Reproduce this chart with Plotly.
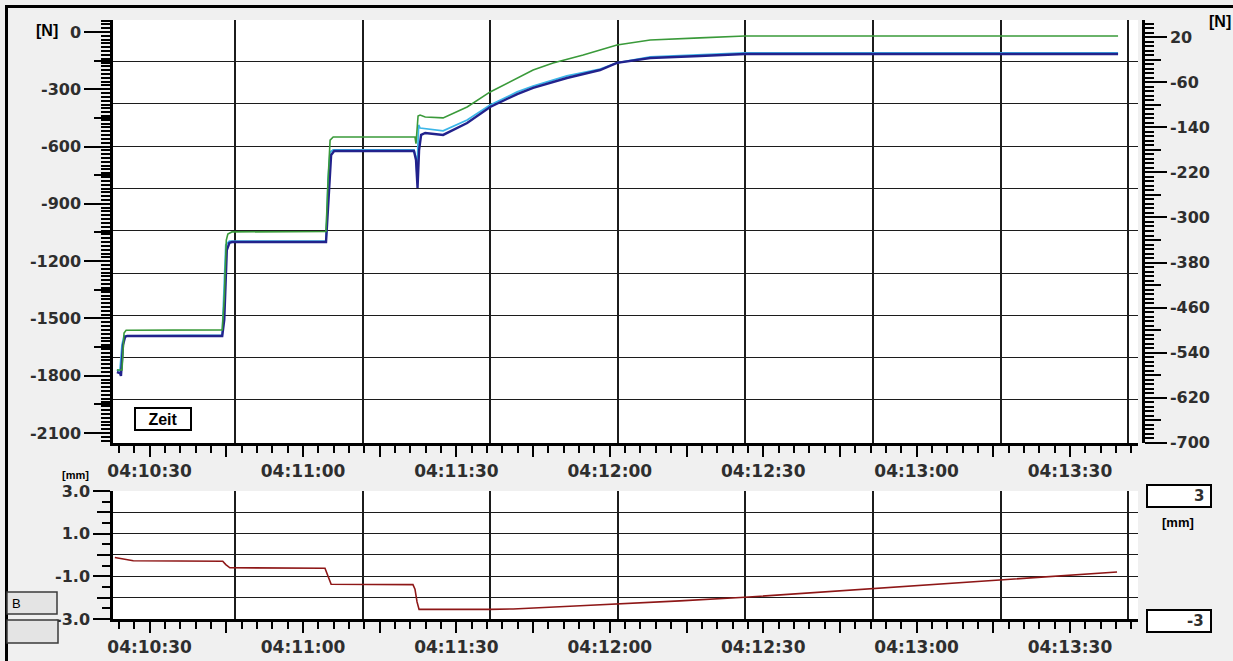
import plotly.graph_objects as go

# ---------------- data ----------------
DAY = "2024-01-01 "

green_t = ["04:10:23.6", "04:10:24.6", "04:10:25.0", "04:10:25.4", "04:10:44.2", "04:10:44.6",
           "04:10:45.0", "04:10:45.3", "04:10:46.1", "04:11:04.5", "04:11:04.9", "04:11:05.3",
           "04:11:05.9", "04:11:21.9", "04:11:22.1", "04:11:22.5", "04:11:22.9", "04:11:23.9",
           "04:11:27.4", "04:11:32.1", "04:11:36.6", "04:11:41.9", "04:11:45.0", "04:11:48.9",
           "04:11:54.8", "04:12:01.4", "04:12:07.9", "04:12:17.6", "04:12:26.4", "04:13:39.4"]
green_v = [-1770, -1770, -1576, -1562, -1560, -1400, -1090, -1058, -1047, -1045, -775, -566,
           -550, -550, -585, -440, -435, -445, -450, -393, -314, -241, -199, -162,
           -120, -68, -42, -31, -21, -21]

navy_t = ["04:10:23.6", "04:10:24.2", "04:10:24.4", "04:10:24.8", "04:10:25.2", "04:10:25.6",
          "04:10:44.2", "04:10:44.6", "04:10:45.1", "04:10:45.6", "04:10:46.1", "04:11:04.5",
          "04:11:05.1", "04:11:05.5", "04:11:06.1", "04:11:21.7", "04:11:22.1", "04:11:22.4",
          "04:11:22.7", "04:11:23.1", "04:11:23.9", "04:11:27.4", "04:11:32.1", "04:11:36.6",
          "04:11:41.9", "04:11:45.0", "04:11:51.6", "04:11:58.1", "04:12:01.4", "04:12:07.9",
          "04:12:17.6", "04:12:26.4", "04:13:39.4"]
navy_v = [-1781, -1786, -1801, -1639, -1597, -1592,
          -1592, -1508, -1142, -1105, -1100, -1100,
          -827, -644, -623, -623, -670, -817,
          -618, -539, -529, -539, -477, -393,
          -325, -293, -241, -199, -162, -136,
          -126, -115, -115]

cyan_t = ["04:10:23.6", "04:10:24.2", "04:10:24.6", "04:10:25.0", "04:10:44.2", "04:10:44.5",
          "04:10:44.9", "04:10:45.6", "04:11:04.5", "04:11:04.9", "04:11:05.3", "04:11:05.9",
          "04:11:21.7", "04:11:22.1", "04:11:22.3", "04:11:22.6", "04:11:22.9", "04:11:27.4",
          "04:11:32.1", "04:11:36.6", "04:11:41.9", "04:11:45.0", "04:11:51.6", "04:11:58.1",
          "04:12:01.4", "04:12:07.9", "04:12:17.6", "04:12:26.4", "04:13:39.4"]
cyan_v = [-1770, -1775, -1639, -1592, -1587, -1403,
          -1115, -1095, -1095, -775, -628, -618,
          -618, -660, -749, -487, -503, -518,
          -461, -382, -314, -283, -230, -194,
          -162, -131, -120, -110, -110]

red_t = ["04:10:23.2", "04:10:25.5", "04:10:26.8", "04:10:44.3", "04:10:44.9", "04:10:45.7",
         "04:11:04.3", "04:11:04.9", "04:11:05.5", "04:11:21.5", "04:11:21.9", "04:11:22.3",
         "04:11:22.7", "04:11:36.6", "04:11:41.1", "04:11:54.2", "04:12:02.0", "04:12:13.7",
         "04:12:26.4", "04:13:16.3", "04:13:39.2"]
red_v = [-0.12, -0.20, -0.27, -0.29, -0.45, -0.60,
         -0.62, -1.00, -1.37, -1.39, -1.60, -2.20,
         -2.55, -2.55, -2.53, -2.38, -2.30, -2.15,
         -1.98, -1.19, -0.80]

time_ticks = ["04:10:30", "04:10:45", "04:11:00", "04:11:15", "04:11:30", "04:11:45", "04:12:00",
              "04:12:15", "04:12:30", "04:12:45", "04:13:00", "04:13:15", "04:13:30"]
time_labels = ["04:10:30", "", "04:11:00", "", "04:11:30", "", "04:12:00",
               "", "04:12:30", "", "04:13:00", "", "04:13:30"]

left_ticks = [0, -300, -600, -900, -1200, -1500, -1800, -2100]
right_ticks = [20, -60, -140, -220, -300, -380, -460, -540, -620, -700]
mm_ticks = [3, 1, -1, -3]
mm_labels = ["3.0", "1.0", "-1.0", "-3.0"]

# ---------------- layout helpers ----------------
W, H = 1233, 661


def px_x(p):
    return p / W


def px_y(p):
    return 1 - p / H


XDOM = [px_x(113), px_x(1138)]
TOP_DOM = [px_y(443), px_y(20)]
BOT_DOM = [px_y(619), px_y(491)]
XRANGE = [DAY + "04:10:22.84", DAY + "04:13:43.3"]

TICKFONT = dict(family="DejaVu Sans", size=16, color="#2e2e2e", weight="bold")
XTICKFONT = dict(family="DejaVu Sans", size=17, color="#2e2e2e", weight="bold")
GRIDCOL = "#1c1c1c"


def dates(ts):
    return [DAY + t for t in ts]


fig = go.Figure()

fig.add_trace(go.Scatter(x=dates(cyan_t), y=cyan_v, mode="lines",
                         line=dict(color="#3cb6e8", width=1.8), xaxis="x", yaxis="y"))
fig.add_trace(go.Scatter(x=dates(navy_t), y=navy_v, mode="lines",
                         line=dict(color="#22228c", width=2.4), xaxis="x", yaxis="y"))
fig.add_trace(go.Scatter(x=dates(green_t), y=green_v, mode="lines",
                         line=dict(color="#3a9a3a", width=1.6), xaxis="x", yaxis="y"))
fig.add_trace(go.Scatter(x=dates(red_t), y=red_v, mode="lines",
                         line=dict(color="#8e1717", width=1.6), xaxis="x4", yaxis="y4"))

# empty traces to instantiate helper (grid / tick) subplots
for xa, ya in [("x", "y2"), ("x3", "y3"), ("x", "y5"), ("x", "y6"),
               ("x4", "y7"), ("x5", "y8")]:
    fig.add_trace(go.Scatter(x=[], y=[], xaxis=xa, yaxis=ya, hoverinfo="skip"))

time_axis = dict(
    type="date", domain=XDOM, range=XRANGE,
    tickmode="array", tickvals=dates(time_ticks), ticktext=time_labels,
    ticks="outside", ticklen=11, tickwidth=2, tickcolor="black",
    minor=dict(tickmode="linear", tick0=DAY + "04:10:00", dtick=3000,
               ticks="outside", ticklen=7, tickwidth=1.5, tickcolor="black"),
    showline=True, linecolor="black", linewidth=2.5,
    showgrid=False, zeroline=False, tickfont=XTICKFONT, automargin=False,
)

grid_x = dict(overlaying="x", range=[0.044, 8.077], tickmode="linear", tick0=0, dtick=1,
              showgrid=True, gridcolor=GRIDCOL, gridwidth=2.2, showticklabels=False,
              ticks="", showline=False, zeroline=False, automargin=False, type="linear")

fig.update_layout(
    width=W, height=H,
    margin=dict(l=0, r=0, t=0, b=0),
    template="none",
    paper_bgcolor="#f0f0f0", plot_bgcolor="white",
    showlegend=False, hovermode=False,
    xaxis=dict(anchor="y", **time_axis),
    xaxis4=dict(anchor="y4", **time_axis),
    yaxis=dict(
        domain=TOP_DOM, range=[-2152.4, 62.8], anchor="x",
        tickmode="array", tickvals=left_ticks, ticktext=[str(v) for v in left_ticks],
        ticks="outside", ticklen=26, tickwidth=2, tickcolor="black",
        minor=dict(tickmode="linear", tick0=0, dtick=20, ticks="outside",
                   ticklen=9, tickwidth=1.5, tickcolor="black"),
        showline=True, linecolor="black", linewidth=2.5,
        showgrid=False, zeroline=False, tickfont=TICKFONT, automargin=False,
    ),
    yaxis5=dict(
        overlaying="y", range=[-2152.4, 62.8], anchor="x", side="left",
        tickmode="array", tickvals=[-150, -450, -750, -1050, -1350, -1650, -1950],
        ticks="outside", ticklen=18, tickwidth=1.5, tickcolor="black",
        showticklabels=False, showline=False, showgrid=False, zeroline=False,
        automargin=False,
    ),
    yaxis2=dict(
        overlaying="y", side="right", anchor="free", position=px_x(1143),
        range=[-700.4, 50.6],
        tickmode="array", tickvals=right_ticks, ticktext=[str(v) for v in right_ticks],
        ticks="outside", ticklen=22, tickwidth=2, tickcolor="black",
        minor=dict(tickmode="linear", tick0=20, dtick=8, ticks="outside",
                   ticklen=9, tickwidth=1.5, tickcolor="black"),
        showline=True, linecolor="black", linewidth=2.5,
        showgrid=False, zeroline=False, tickfont=TICKFONT, automargin=False,
    ),
    yaxis6=dict(
        overlaying="y", side="right", anchor="free", position=px_x(1143),
        range=[-700.4, 50.6],
        tickmode="array", tickvals=[-20, -100, -180, -260, -340, -420, -500, -580, -660],
        ticks="outside", ticklen=17, tickwidth=1.5, tickcolor="black",
        showticklabels=False, showline=False, showgrid=False, zeroline=False,
        automargin=False,
    ),
    xaxis3=dict(anchor="y3", **grid_x),
    yaxis3=dict(overlaying="y", anchor="x3", range=[-0.017, 9.98], tickmode="linear",
                tick0=0, dtick=1, showgrid=True, gridcolor=GRIDCOL, gridwidth=1.4,
                showticklabels=False, ticks="", showline=False, zeroline=False,
                automargin=False),
    yaxis4=dict(
        domain=BOT_DOM, range=[-3, 3], anchor="x4",
        tickmode="array", tickvals=mm_ticks, ticktext=mm_labels,
        ticks="outside", ticklen=17, tickwidth=2, tickcolor="black",
        minor=dict(tickmode="linear", tick0=0, dtick=0.5, ticks="outside",
                   ticklen=8, tickwidth=1.5, tickcolor="black"),
        showline=True, linecolor="black", linewidth=2.5,
        showgrid=False, zeroline=False, tickfont=TICKFONT, automargin=False,
    ),
    yaxis7=dict(
        overlaying="y4", range=[-3, 3], anchor="x4", side="left",
        tickmode="array", tickvals=[2, 0, -2],
        ticks="outside", ticklen=15, tickwidth=1.5, tickcolor="black",
        showticklabels=False, showline=False, showgrid=False, zeroline=False,
        automargin=False,
    ),
    xaxis5=dict(anchor="y8", **{**grid_x, "overlaying": "x4"}),
    yaxis8=dict(overlaying="y4", anchor="x5", range=[-3, 2.99], tickmode="linear",
                tick0=0, dtick=1, showgrid=True, gridcolor=GRIDCOL, gridwidth=1.4,
                showticklabels=False, ticks="", showline=False, zeroline=False,
                automargin=False),
)

shapes = [
    # window frame (top and left)
    dict(type="line", xref="paper", yref="paper", x0=px_x(6.5), x1=px_x(6.5),
         y0=px_y(661), y1=px_y(6), line=dict(color="black", width=3)),
    dict(type="line", xref="paper", yref="paper", x0=px_x(5), x1=1,
         y0=px_y(6.5), y1=px_y(6.5), line=dict(color="black", width=3)),
    # left buttons
    dict(type="rect", xref="paper", yref="paper", x0=px_x(7), x1=px_x(57),
         y0=px_y(614), y1=px_y(592), fillcolor="#e4e4e4",
         line=dict(color="#3a3a3a", width=1.5), layer="above"),
    dict(type="rect", xref="paper", yref="paper", x0=px_x(7), x1=px_x(58),
         y0=px_y(643), y1=px_y(620), fillcolor="#e4e4e4",
         line=dict(color="#3a3a3a", width=1.5), layer="above"),
    # right value boxes
    dict(type="rect", xref="paper", yref="paper", x0=px_x(1147), x1=px_x(1211),
         y0=px_y(507), y1=px_y(485), fillcolor="white",
         line=dict(color="black", width=2), layer="above"),
    dict(type="rect", xref="paper", yref="paper", x0=px_x(1147), x1=px_x(1211),
         y0=px_y(632), y1=px_y(610), fillcolor="white",
         line=dict(color="black", width=2), layer="above"),
]
fig.update_layout(shapes=shapes)

LBL = dict(family="Liberation Sans", color="black", weight="bold")
VAL = dict(family="DejaVu Sans", size=15, color="#2e2e2e", weight="bold")
annotations = [
    dict(text="[N]", x=px_x(47), y=px_y(30), font=dict(size=16, **LBL)),
    dict(text="[N]", x=px_x(1220), y=px_y(22), font=dict(size=16, **LBL)),
    dict(text="Zeit", x=px_x(163), y=px_y(419), font=dict(size=16, **LBL),
         bgcolor="white", bordercolor="black", borderwidth=2, borderpad=1,
         width=52, height=18),
    dict(text="[mm]", x=px_x(75), y=px_y(475), font=dict(size=11, **LBL)),
    dict(text="[mm]", x=px_x(1178), y=px_y(522), font=dict(size=13, **LBL)),
    dict(text="3", x=px_x(1206), y=px_y(496), xanchor="right", font=VAL),
    dict(text="-3", x=px_x(1206), y=px_y(621), xanchor="right", font=VAL),
    dict(text="B", x=px_x(10), y=px_y(603), xanchor="left",
         font=dict(family="Liberation Sans", size=13, color="black")),
]
for a in annotations:
    a.setdefault("xanchor", "center")
    a.update(xref="paper", yref="paper", showarrow=False, yanchor="middle")
fig.update_layout(annotations=annotations)

fig.write_html("out.html", config={"displayModeBar": False},
               post_script="document.body.style.margin='0';document.body.style.overflow='hidden';")
